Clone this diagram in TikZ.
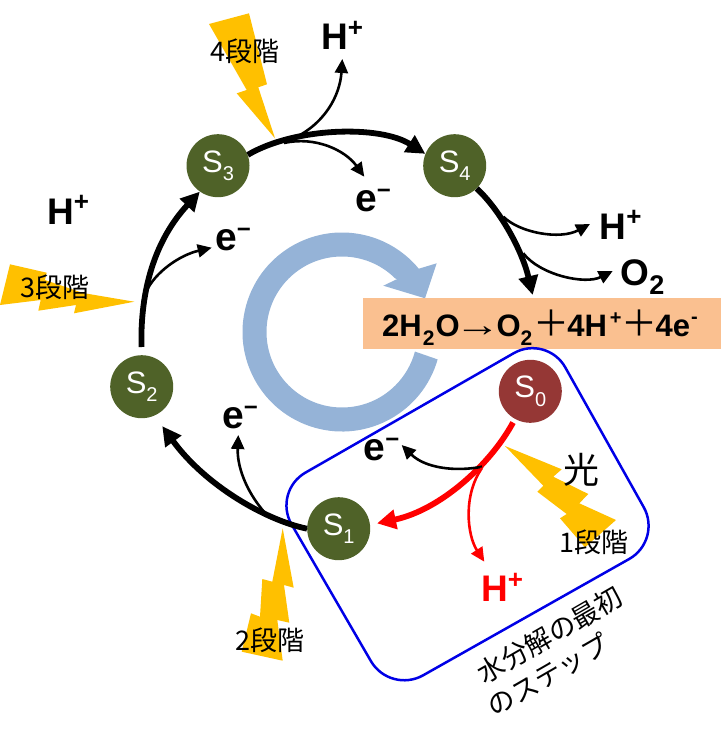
\documentclass[tikz,border=0pt]{standalone}
\usepackage{fontspec}
\setmainfont{Liberation Sans}
\newfontfamily\jpf{Noto Sans CJK JP}
\usetikzlibrary{arrows.meta}
\definecolor{gbolt}{HTML}{FFC000}
\definecolor{gnode}{HTML}{4F6228}
\definecolor{rnode}{HTML}{953735}
\definecolor{ringc}{HTML}{95B3D7}
\definecolor{bandc}{HTML}{FAC090}
\definecolor{boxc}{HTML}{0000E6}
\newcommand{\fsz}[1]{\fontsize{#1}{#1}\selectfont}
\newcommand{\Hp}{\fsz{37}\bfseries H\raisebox{.36em}{\fsz{26}+}}
\newcommand{\Em}{\fsz{39}\bfseries e\raisebox{.33em}{\fsz{24}\textminus}}
\newcommand{\Sn}[1]{\fsz{31}S\raisebox{-.28em}{\fsz{20}#1}}
\newcommand{\Sb}{\raisebox{-.32em}{\fsz{21}2}}
\newcommand{\Plus}{{\jpf\mdseries\fsz{36}＋}}
\tikzset{
 snode/.style={circle,fill=gnode,minimum size=63pt,inner sep=0pt,text=white},
 lab/.style={inner sep=0pt,anchor=base west},
 jp/.style={inner sep=0pt,font=\jpf\fsz{27}},
 bolt/.style={fill=gbolt,draw=none},
 bighead/.style={-{Triangle[length=19pt,width=19pt]}},
 smallhead/.style={-{Triangle[length=14pt,width=13pt]}},
 mainarc/.style={line width=5.8pt,bighead},
 sidearc/.style={line width=2.6pt,smallhead},
}
\begin{document}
\begin{tikzpicture}[x=1pt,y=-1pt]
\useasboundingbox (0,0) rectangle (721,738);
% ring arrow
\fill[ringc] ([shift={(342,332)}]16:99.5) arc[start angle=16,end angle=320.5,radius=99.5]
  -- (436.7,263.3) -- (425,298.3) -- (383.3,285.7) -- (397.3,279)
  -- ([shift={(342,332)}]315:75.5) arc[start angle=315,end angle=15,radius=75.5,delta angle=-300] -- cycle;
% band
\node[fill=bandc,inner sep=0pt,minimum width=358pt,minimum height=51pt,anchor=north west] (band) at (363,298) {};
\node[lab] (eq) at (382,336) {\fsz{31}\bfseries 2H\hspace{1pt}\Sb\hspace{1pt}O\hspace{-5pt}{\mdseries\fsz{34}\scalebox{1.35}[1]{→}}\hspace{-4pt}O\Sb\hspace{1pt}\Plus\hspace{-2pt}4H\hspace{3pt}\raisebox{.38em}{\fsz{20}+}\Plus\hspace{-2pt}4e\hspace{1pt}\raisebox{.4em}{\fsz{20}-}};
% step box
\draw[boxc,line width=2.5pt,rounded corners=38pt] (546.7,334.3) -- (662.3,540.3) -- (390,694) -- (272.5,491.5) -- cycle;
% bolts
\fill[bolt] (209,24) -- (249,13.3) -- (267,84.3) -- (258.3,87.3) -- (275,138.3) -- (236.7,93.3) -- (246.7,90) -- cycle;
\fill[bolt] (10,264.3) -- (46.7,272.7) -- (45,280) -- (83,293) -- (134.3,301.7) -- (74,313.3) -- (76,305) -- (38.3,310.7) -- (40.7,300) -- (0,305) -- cycle;
\fill[bolt] (282.7,528.3) -- (293.7,587.7) -- (284,585) -- (289.3,622.7) -- (277.3,620) -- (282.7,660.7) -- (241.7,651.7) -- (251,613.3) -- (260,616.7) -- (262.3,579) -- (272.3,581.7) -- cycle;
\fill[bolt] (505,446) -- (561.7,469.3) -- (553.3,476.7) -- (588.3,494) -- (579.3,503.3) -- (616,520) -- (585,547.3) -- (560,518.3) -- (566.7,514) -- (537.3,491.7) -- (543.3,485.7) -- cycle;
% nodes
\node[snode] (S3) at (218,165.7) {\Sn{3}};
\node[snode] (S4) at (454.7,165.7) {\Sn{4}};
\node[snode] (S2) at (141.7,386.7) {\Sn{2}};
\node[snode] (S1) at (338.7,528.7) {\Sn{1}};
\node[snode,fill=rnode] (S0) at (530.3,391.3) {\Sn{0}};
% free ends
\coordinate (a4) at (532.7,295);
\coordinate (b3) at (290,140); \coordinate (t3h) at (342.3,59);
\coordinate (c3) at (284,143); \coordinate (t3e) at (364.3,176.7);
\coordinate (b2) at (146,292); \coordinate (t2e) at (211.7,247.7);
\coordinate (b1) at (265,513); \coordinate (t1e) at (238.3,435);
\coordinate (b0) at (482,466.7); \coordinate (t0e) at (401.7,445);
\coordinate (c0) at (482,468); \coordinate (t0h) at (484.3,561.7);
\coordinate (b4) at (503.3,216.7); \coordinate (t4h) at (590,224);
\coordinate (c4) at (523.3,253.3); \coordinate (t4o) at (612.7,271);
% main arcs
\draw[mainarc] (S3.20) .. controls (295,127) and (380,125) .. (S4.158);
\draw[mainarc] (S4.-46) .. controls (500,210) and (522,250) .. (a4);
\draw[mainarc,shorten <=8pt] (S2.90) .. controls (140,290) and (155,240) .. (S3.235);
\draw[mainarc,shorten >=13pt] (S1.180) .. controls (265,520) and (205,485) .. (S2.-66);
\draw[mainarc,red,shorten <=4pt,shorten >=7pt] (S0.241) .. controls (490,465) and (440,510) .. (S1.7);
% side arcs
\draw[sidearc] (b3) .. controls (325,125) and (340,95) .. (t3h);
\draw[sidearc] (c3) .. controls (315,136) and (345,150) .. (t3e);
\draw[sidearc] (b2) .. controls (155,272) and (180,255) .. (t2e);
\draw[sidearc] (b1) .. controls (245,490) and (237,465) .. (t1e);
\draw[sidearc] (b0) .. controls (455,472) and (425,468) .. (t0e);
\draw[sidearc,red] (c0) .. controls (463,495) and (467,535) .. (t0h);
\draw[sidearc] (b4) .. controls (520,233) and (560,240) .. (t4h);
\draw[sidearc] (c4) .. controls (540,275) and (585,285) .. (t4o);
% labels
\node[lab] (h3) at (321,50) {\Hp};
\node[lab] (h2) at (47,224.3) {\Hp};
\node[lab] (h4) at (599.5,239.3) {\Hp};
\node[lab,text=red] (h0) at (481,601.7) {\Hp};
\node[lab] (e3) at (355,211.7) {\Em};
\node[lab] (e2) at (215,250) {\Em};
\node[lab] (e1) at (222,428.3) {\Em};
\node[lab] (e0) at (363.5,460.7) {\Em};
\node[lab] (o2) at (620.5,285.7) {\fsz{37}\bfseries O\raisebox{-.25em}{\fsz{27}2}};
\node[jp] (l4) at (244.7,51) {4段階};
\node[jp] (l3) at (54.7,287.5) {3段階};
\node[jp] (l2) at (270,640) {2段階};
\node[jp] (l1) at (594,542) {1段階};
\node[jp,font=\jpf\fsz{36}] (hk) at (581.7,469.7) {光};
\node[jp,rotate=30] (w1) at (550,635) {水分解の最初};
\node[jp,rotate=30] (w2) at (548,675) {のステップ};
\end{tikzpicture}
\end{document}
